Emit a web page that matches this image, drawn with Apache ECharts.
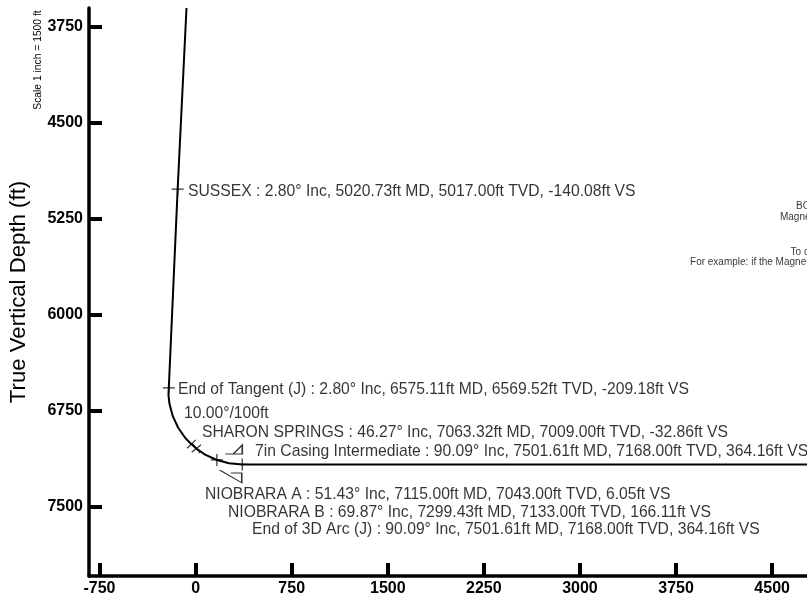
<!DOCTYPE html>
<html><head><meta charset="utf-8">
<style>html,body{margin:0;padding:0;background:#fff}#c{width:807px;height:600px}</style>
<script src="https://cdn.jsdelivr.net/npm/echarts@6/dist/echarts.min.js"></script></head>
<body><div id="c"></div>
<script>
const xTicks=[-750,0,750,1500,2250,3000,3750,4500];
const yTicks=[3750,4500,5250,6000,6750,7500];
const wellVS=[-71,-140.08,-209.18,-212,-204,-178,-136,-79,-32.86,6.05,74,166.11,261,364.16,4772];
const wellTVD=[3602,5017,6569.52,6623,6694,6791,6881,6963,7009,7043,7091,7133,7159,7168,7168];
const crossVS=[-140.08,-209.18,-32.86,6.05,166.11,364.16];
const crossTVD=[5017,6569.52,7009,7043,7133,7168];
const crossRot=[0,0,-46,-51,0,0];
const noteText=["SUSSEX : 2.80° Inc, 5020.73ft MD, 5017.00ft TVD, -140.08ft VS",
"End of Tangent (J) : 2.80° Inc, 6575.11ft MD, 6569.52ft TVD, -209.18ft VS",
"10.00°/100ft",
"SHARON SPRINGS : 46.27° Inc, 7063.32ft MD, 7009.00ft TVD, -32.86ft VS",
"7in Casing Intermediate : 90.09° Inc, 7501.61ft MD, 7168.00ft TVD, 364.16ft VS",
"NIOBRARA A : 51.43° Inc, 7115.00ft MD, 7043.00ft TVD, 6.05ft VS",
"NIOBRARA B : 69.87° Inc, 7299.43ft MD, 7133.00ft TVD, 166.11ft VS",
"End of 3D Arc (J) : 90.09° Inc, 7501.61ft MD, 7168.00ft TVD, 364.16ft VS"];
const noteVS=[-59,-137,-91,50,464,73,253,440];
const noteTVD=[5034,6581,6768,6917,7065,7401,7542,7675];
const sideText=["BO","Magne","To c","For example: if the Magne"];
const sideVS=[4686,4561,4644,3859];
const sideTVD=[5148,5234,5508,5586];
const casingVS=[364.16,364.16];
const casingTVD=[7168,7168];
const FONT='"Liberation Sans",Arial,sans-serif';
const chart=echarts.init(document.getElementById('c'),null,{renderer:'canvas'});
const plus='path://M-5 0L5 0M0 -5L0 5';
chart.setOption({
 animation:false,backgroundColor:'#fff',
 grid:{left:89,top:8,width:718,height:568,containLabel:false,outerBoundsMode:'none'},
 xAxis:{type:'value',min:-832,max:4772,splitLine:{show:false},
  axisLine:{onZero:false,lineStyle:{color:'#000',width:3.5}},
  axisTick:{customValues:xTicks,inside:true,length:13,lineStyle:{color:'#000',width:4}},
  axisLabel:{customValues:xTicks,formatter:v=>String(v),color:'#000',fontFamily:FONT,fontWeight:'bold',fontSize:16,margin:5}},
 yAxis:{type:'value',inverse:true,min:3602,max:8039.5,splitLine:{show:false},
  name:'True Vertical Depth (ft)',nameLocation:'middle',nameGap:59,nameRotate:90,
  nameTextStyle:{fontFamily:FONT,fontSize:22.2,color:'#000'},
  axisLine:{onZero:false,lineStyle:{color:'#000',width:3.5}},
  axisTick:{customValues:yTicks,inside:true,length:13,lineStyle:{color:'#000',width:4}},
  axisLabel:{customValues:yTicks,formatter:v=>String(v),color:'#000',fontFamily:FONT,fontWeight:'bold',fontSize:16,margin:6}},
 graphic:[{type:'text',x:38,y:60,rotation:Math.PI/2,style:{text:'Scale 1 inch = 1500 ft',fontFamily:FONT,fontSize:10.3,fill:'#000',align:'center',verticalAlign:'middle'}}],
 series:[
  {type:'line',data:wellVS.map((v,i)=>[v,wellTVD[i]]),showSymbol:false,lineStyle:{color:'#000',width:2},silent:true},
  {type:'scatter',data:crossVS.map((v,i)=>({value:[v,crossTVD[i]],symbolRotate:crossRot[i]})),symbol:plus,symbolSize:[12,12],itemStyle:{color:'none',borderColor:'#000',borderWidth:1.2}},
  {type:'scatter',data:[[casingVS[0],casingTVD[0]]],symbol:'path://M-17 4.5L0 4.5L0 -4.5L-9 4.5',symbolSize:[17,9],symbolOffset:[-8.5,-15],itemStyle:{color:'none',borderColor:'#000',borderWidth:1.2}},
  {type:'scatter',data:[[casingVS[1],casingTVD[1]]],symbol:'path://M-22 -6.3L0 6.3L0 -3.5L-11 -3.5',symbolSize:[22,12.6],symbolOffset:[-11.5,12],itemStyle:{color:'none',borderColor:'#000',borderWidth:1.2}},
  {type:'scatter',symbolSize:0,data:noteVS.map((v,i)=>({value:[v,noteTVD[i]],name:noteText[i]})),
   label:{show:true,position:'right',distance:0,formatter:p=>p.name,fontFamily:FONT,fontSize:15.7,color:'#000'}},
  {type:'scatter',symbolSize:0,data:sideVS.map((v,i)=>({value:[v,sideTVD[i]],name:sideText[i]})),
   label:{show:true,position:'right',distance:0,formatter:p=>p.name,fontFamily:FONT,fontSize:10,color:'#000'}}
 ]
});
</script></body></html>
